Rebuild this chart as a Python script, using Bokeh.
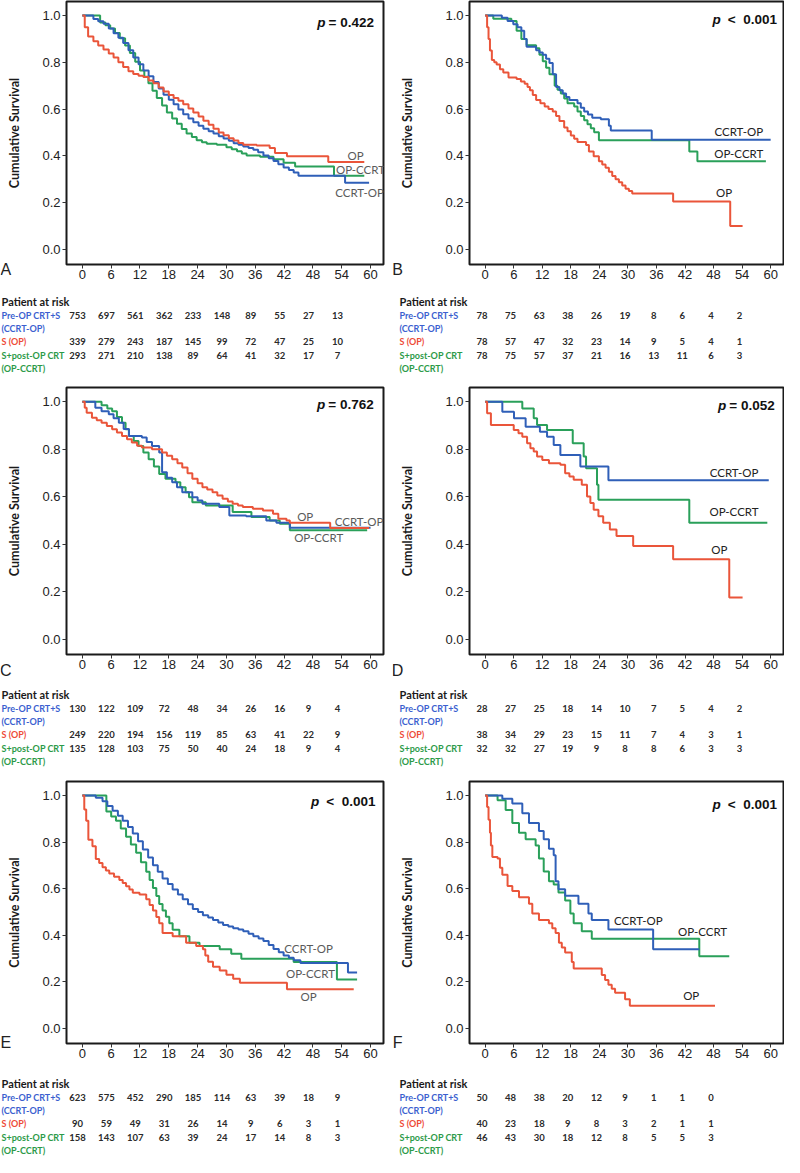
from bokeh.plotting import figure
from bokeh.layouts import column, row
from bokeh.models import Range1d, FixedTicker, NumeralTickFormatter, Label
from bokeh.core.properties import value
from bokeh.embed import file_html
from bokeh.resources import INLINE

# ---------------- data ----------------
TIME_TICKS = [0, 6, 12, 18, 24, 30, 36, 42, 48, 54, 60]
SURV_TICKS = [0.0, 0.2, 0.4, 0.6, 0.8, 1.0]
RISK_TIMES = [0, 6, 12, 18, 24, 30, 36, 42, 48, 54]
ROW_NAMES = ["Pre-OP CRT+S", "(CCRT-OP)", "S (OP)", "S+post-OP CRT", "(OP-CCRT)"]
CURVE_NAMES = ["CCRT-OP", "OP", "OP-CCRT"]

# Panel A
A_op_t = [0, 0.5, 1.2, 2.3, 3.3, 4.4, 5.5, 6.5, 7.5, 8.5, 9.6, 10.6, 11.7, 12.7, 13.8, 14.8, 15.9, 16.9, 18.0, 19.0,
          20.0, 21.0, 22.1, 23.1, 24.2, 25.2, 26.3, 27.3, 28.4, 29.4, 30.5, 31.5, 32.5, 33.5, 36.3, 39.0, 40.1, 42.6, 51.2, 58.7]
A_op_s = [1.0, 0.95, 0.91, 0.89, 0.872, 0.855, 0.838, 0.82, 0.80, 0.78, 0.762, 0.75, 0.742, 0.737, 0.722, 0.71, 0.692,
          0.675, 0.66, 0.647, 0.635, 0.62, 0.602, 0.585, 0.568, 0.55, 0.533, 0.516, 0.50, 0.488, 0.475, 0.465, 0.455,
          0.447, 0.444, 0.433, 0.412, 0.398, 0.373, 0.373]
A_ccrt_t = [0, 2.3, 3.3, 4.4, 5.5, 6.5, 7.5, 8.5, 9.6, 10.6, 11.7, 12.7, 13.8, 14.8, 15.9, 16.9, 18.0, 19.0, 20.0, 21.0,
            22.1, 23.1, 24.2, 25.2, 26.3, 27.3, 28.4, 29.4, 30.5, 31.5, 32.5, 33.5, 34.6, 35.6, 36.6, 37.7, 38.8, 39.8,
            40.8, 41.9, 43.0, 44.0, 45.0, 54.7, 59.7]
A_ccrt_s = [1.0, 0.985, 0.975, 0.965, 0.945, 0.924, 0.905, 0.882, 0.852, 0.82, 0.792, 0.765, 0.74, 0.716, 0.688, 0.661,
            0.64, 0.62, 0.598, 0.578, 0.56, 0.543, 0.529, 0.516, 0.505, 0.495, 0.484, 0.474, 0.464, 0.454, 0.447, 0.44,
            0.433, 0.426, 0.415, 0.401, 0.39, 0.378, 0.364, 0.35, 0.339, 0.329, 0.315, 0.285, 0.285]
A_opccrt_t = [0, 3.7, 4.8, 5.8, 6.8, 7.8, 8.9, 9.9, 11.0, 12.0, 12.9, 13.75, 14.6, 15.5, 16.6, 17.6, 18.7, 19.7, 20.7,
              21.7, 22.8, 23.8, 24.9, 25.9, 28.0, 30.0, 31.1, 32.2, 33.2, 34.2, 37.0, 39.8, 41.9, 44.3, 52.4, 58.7]
A_opccrt_s = [1.0, 0.97, 0.958, 0.945, 0.925, 0.903, 0.872, 0.84, 0.802, 0.765, 0.738, 0.71, 0.678, 0.647, 0.615, 0.585,
              0.56, 0.537, 0.515, 0.495, 0.48, 0.467, 0.458, 0.451, 0.447, 0.437, 0.428, 0.419, 0.41, 0.401, 0.396,
              0.385, 0.37, 0.354, 0.315, 0.315]
A_risk_ccrt = [753, 697, 561, 362, 233, 148, 89, 55, 27, 13]
A_risk_op = [339, 279, 243, 187, 145, 99, 72, 47, 25, 10]
A_risk_opccrt = [293, 271, 210, 138, 89, 64, 41, 32, 17, 7]

# Panel B
B_op_t = [0, 0.4, 0.7, 1.0, 1.4, 1.9, 2.4, 3.1, 3.8, 4.9, 6.6, 7.5, 8.3, 8.9, 9.4, 10.0, 10.7, 11.6, 12.5, 13.3, 14.2,
          14.9, 15.6, 16.6, 17.3, 18.0, 18.7, 19.4, 21.2, 21.8, 22.8, 23.9, 24.6, 25.3, 26.0, 26.7, 27.4, 28.1, 28.8,
          29.5, 30.2, 30.9, 39.5, 51.5, 54.1]
B_op_s = [1.0, 0.95, 0.9, 0.85, 0.81, 0.8, 0.79, 0.77, 0.756, 0.735, 0.728, 0.718, 0.708, 0.694, 0.68, 0.66, 0.639,
          0.625, 0.611, 0.6, 0.59, 0.57, 0.549, 0.521, 0.505, 0.487, 0.473, 0.459, 0.446, 0.418, 0.398, 0.377, 0.363,
          0.349, 0.332, 0.314, 0.3, 0.287, 0.273, 0.259, 0.249, 0.239, 0.204, 0.1, 0.1]
B_ccrt_t = [0, 3.5, 4.7, 5.9, 6.8, 7.6, 8.2, 8.7, 10.7, 11.4, 12.1, 12.8, 13.5, 14.2, 14.9, 15.6, 16.3, 17.0, 17.7,
            19.4, 20.1, 20.8, 21.6, 22.5, 24.3, 26.0, 26.4, 35.0, 60.0]
B_ccrt_s = [1.0, 0.99, 0.977, 0.963, 0.95, 0.935, 0.9, 0.866, 0.852, 0.842, 0.832, 0.815, 0.797, 0.749, 0.694, 0.68,
            0.666, 0.652, 0.639, 0.625, 0.605, 0.59, 0.577, 0.563, 0.556, 0.528, 0.508, 0.469, 0.469]
B_opccrt_t = [0, 1.7, 5.5, 6.6, 7.6, 8.7, 10.7, 11.4, 12.1, 12.8, 13.5, 14.6, 15.2, 15.9, 16.6, 17.3, 18.7, 19.4, 20.1,
              20.8, 21.5, 22.2, 22.9, 23.9, 42.9, 44.6, 59.0]
B_opccrt_s = [1.0, 0.986, 0.977, 0.935, 0.9, 0.873, 0.86, 0.832, 0.804, 0.777, 0.749, 0.7, 0.683, 0.666, 0.645, 0.625,
              0.611, 0.59, 0.57, 0.552, 0.535, 0.518, 0.501, 0.466, 0.418, 0.377, 0.377]
B_risk_ccrt = [78, 75, 63, 38, 26, 19, 8, 6, 4, 2]
B_risk_op = [78, 57, 47, 32, 23, 14, 9, 5, 4, 1]
B_risk_opccrt = [78, 75, 57, 37, 21, 16, 13, 11, 6, 3]

# Panel C
C_op_t = [0, 0.5, 0.9, 2.0, 3.0, 4.0, 5.1, 6.2, 7.2, 8.25, 9.3, 10.3, 11.4, 12.4, 14.5, 16.6, 17.6, 18.7, 19.8, 20.8,
          21.9, 22.9, 24.0, 25.0, 26.0, 27.1, 28.1, 29.2, 30.3, 31.3, 32.4, 33.4, 35.5, 37.6, 39.7, 40.8, 42.5, 43.2,
          51.6, 59.7]
C_op_s = [1.0, 0.975, 0.954, 0.933, 0.922, 0.912, 0.898, 0.884, 0.87, 0.856, 0.842, 0.828, 0.815, 0.807, 0.8, 0.786,
          0.772, 0.758, 0.741, 0.723, 0.699, 0.675, 0.657, 0.64, 0.63, 0.619, 0.605, 0.591, 0.58, 0.57, 0.563, 0.556,
          0.549, 0.542, 0.528, 0.507, 0.5, 0.49, 0.468, 0.468]
C_ccrt_t = [0, 2.7, 4.0, 5.5, 6.5, 7.6, 8.6, 9.7, 12.4, 13.4, 14.5, 16.0, 16.6, 17.6, 18.7, 19.7, 20.8, 22.9, 24.0,
            25.0, 28.5, 30.6, 34.1, 38.3, 40.4, 43.2, 60.0]
C_ccrt_s = [1.0, 0.975, 0.96, 0.947, 0.93, 0.912, 0.885, 0.856, 0.849, 0.83, 0.814, 0.786, 0.703, 0.68, 0.661, 0.64,
            0.619, 0.598, 0.584, 0.57, 0.556, 0.521, 0.517, 0.5, 0.49, 0.469, 0.469]
C_opccrt_t = [0, 4.0, 5.2, 6.2, 7.2, 8.25, 9.0, 9.7, 10.7, 11.7, 12.7, 13.8, 14.9, 16.0, 17.3, 19.4, 20.4, 21.5, 22.2,
              22.9, 25.7, 31.3, 35.2, 39.0, 41.1, 43.2, 59.3]
C_opccrt_s = [1.0, 0.985, 0.972, 0.96, 0.936, 0.912, 0.884, 0.856, 0.835, 0.814, 0.786, 0.758, 0.727, 0.696, 0.675,
              0.661, 0.64, 0.619, 0.598, 0.577, 0.563, 0.535, 0.514, 0.5, 0.486, 0.458, 0.458]
C_risk_ccrt = [130, 122, 109, 72, 48, 34, 26, 16, 9, 4]
C_risk_op = [249, 220, 194, 156, 119, 85, 63, 41, 22, 9]
C_risk_opccrt = [135, 128, 103, 75, 50, 40, 24, 18, 9, 4]

# Panel D
D_op_t = [0, 0.4, 1.2, 6.0, 7.0, 7.8, 8.8, 9.5, 10.2, 10.9, 12.0, 13.4, 15.8, 16.8, 17.7, 18.6, 20.3, 21.4, 22.1, 22.8,
          23.8, 24.8, 26.2, 27.6, 31.1, 39.5, 51.3, 54.1]
D_op_s = [1.0, 0.951, 0.902, 0.881, 0.867, 0.853, 0.825, 0.804, 0.79, 0.769, 0.755, 0.741, 0.734, 0.699, 0.685, 0.671,
          0.65, 0.601, 0.573, 0.545, 0.517, 0.49, 0.462, 0.434, 0.392, 0.336, 0.175, 0.175]
D_ccrt_t = [0, 3.6, 6.05, 8.5, 11.5, 13.0, 14.4, 15.8, 20.0, 25.9, 59.6]
D_ccrt_s = [1.0, 0.958, 0.93, 0.895, 0.874, 0.853, 0.818, 0.776, 0.727, 0.669, 0.669]
D_opccrt_t = [0, 7.8, 10.2, 10.9, 13.0, 18.4, 20.7, 21.2, 23.5, 23.8, 42.9, 59.3]
D_opccrt_s = [1.0, 0.972, 0.93, 0.902, 0.881, 0.825, 0.769, 0.72, 0.65, 0.587, 0.49, 0.49]
D_risk_ccrt = [28, 27, 25, 18, 14, 10, 7, 5, 4, 2]
D_risk_op = [38, 34, 29, 23, 15, 11, 7, 4, 3, 1]
D_risk_opccrt = [32, 32, 27, 19, 9, 8, 8, 6, 3, 3]

# Panel E
E_op_t = [0, 0.4, 0.8, 1.25, 2.1, 2.8, 3.5, 4.2, 4.9, 5.6, 6.6, 7.7, 8.4, 9.1, 9.8, 10.5, 11.9, 13.3, 14.0, 14.7,
          15.4, 16.0, 16.7, 18.8, 21.6, 23.7, 25.1, 25.6, 26.2, 27.2, 28.6, 30.0, 31.4, 32.8, 42.6, 56.5]
E_op_s = [1.0, 0.94, 0.892, 0.81, 0.782, 0.727, 0.71, 0.692, 0.678, 0.665, 0.651, 0.637, 0.624, 0.61, 0.596, 0.582,
          0.575, 0.554, 0.53, 0.506, 0.478, 0.451, 0.41, 0.396, 0.368, 0.354, 0.34, 0.313, 0.286, 0.265, 0.248, 0.23,
          0.213, 0.196, 0.168, 0.168]
E_ccrt_t = [0, 2.8, 4.2, 5.2, 6.3, 7.4, 8.4, 9.5, 10.5, 11.6, 12.6, 13.7, 14.7, 15.7, 16.7, 17.8, 18.8, 19.9, 20.9,
            22.0, 23.0, 24.1, 25.1, 26.2, 27.2, 28.3, 29.3, 30.4, 31.4, 32.5, 33.5, 34.6, 35.6, 36.7, 37.7, 38.8, 39.8,
            40.9, 41.9, 43.0, 44.0, 45.4, 55.3, 57.2]
E_ccrt_s = [1.0, 0.99, 0.975, 0.955, 0.934, 0.913, 0.892, 0.865, 0.837, 0.803, 0.768, 0.734, 0.7, 0.672, 0.644, 0.62,
            0.596, 0.575, 0.554, 0.533, 0.513, 0.5, 0.486, 0.476, 0.465, 0.455, 0.444, 0.437, 0.43, 0.424, 0.417,
            0.406, 0.396, 0.386, 0.375, 0.358, 0.341, 0.327, 0.313, 0.303, 0.292, 0.281, 0.24, 0.24]
E_opccrt_t = [0, 5.0, 6.0, 7.0, 8.0, 9.1, 10.1, 11.2, 12.2, 13.3, 14.0, 14.7, 15.4, 16.0, 16.7, 17.4, 18.1, 18.8,
              20.2, 22.3, 24.4, 28.6, 31.0, 33.1, 44.0, 53.0, 57.2]
E_opccrt_s = [1.0, 0.931, 0.91, 0.892, 0.858, 0.823, 0.789, 0.754, 0.713, 0.672, 0.637, 0.603, 0.568, 0.534, 0.506,
              0.479, 0.451, 0.423, 0.396, 0.368, 0.354, 0.34, 0.32, 0.299, 0.285, 0.21, 0.21]
E_risk_ccrt = [623, 575, 452, 290, 185, 114, 63, 39, 18, 9]
E_risk_op = [90, 59, 49, 31, 26, 14, 9, 6, 3, 1]
E_risk_opccrt = [158, 143, 107, 63, 39, 24, 17, 14, 8, 3]

# Panel F
F_op_t = [0, 0.4, 0.7, 1.0, 1.2, 1.5, 2.6, 3.1, 3.6, 4.7, 5.7, 7.1, 9.2, 9.9, 11.3, 13.4, 14.1, 14.8, 15.5, 16.1,
          16.8, 18.2, 18.6, 24.5, 25.2, 25.9, 26.6, 27.3, 29.4, 30.4, 48.3]
F_op_s = [1.0, 0.95, 0.896, 0.84, 0.785, 0.736, 0.729, 0.69, 0.66, 0.611, 0.59, 0.5625, 0.535, 0.493, 0.465, 0.451,
          0.43, 0.41, 0.368, 0.347, 0.326, 0.285, 0.257, 0.229, 0.208, 0.1875, 0.17, 0.153, 0.125, 0.097, 0.097]
F_ccrt_t = [0, 3.6, 5.7, 7.8, 9.2, 11.3, 12.3, 13.4, 14.4, 14.8, 15.4, 16.8, 19.6, 21.7, 22.4, 25.9, 35.3, 45.0]
F_ccrt_s = [1.0, 0.986, 0.965, 0.924, 0.882, 0.847, 0.8125, 0.771, 0.743, 0.632, 0.597, 0.569, 0.535, 0.493, 0.465,
            0.424, 0.34, 0.34]
F_opccrt_t = [0, 2.6, 4.3, 5.7, 7.1, 8.5, 10.6, 11.3, 12.3, 13.4, 14.4, 15.4, 16.8, 17.9, 18.6, 20.3, 22.4, 45.0, 51.3]
F_opccrt_s = [1.0, 0.979, 0.9375, 0.882, 0.84, 0.8125, 0.785, 0.729, 0.674, 0.632, 0.618, 0.583, 0.549, 0.493, 0.451,
              0.417, 0.385, 0.31, 0.31]
F_risk_ccrt = [50, 48, 38, 20, 12, 9, 1, 1, 0]
F_risk_op = [40, 23, 18, 9, 8, 3, 2, 1, 1]
F_risk_opccrt = [46, 43, 30, 18, 12, 8, 5, 5, 3]

P_TEXTS = {"A": "= 0.422", "B": "<\u00a0\u00a00.001", "C": "= 0.762", "D": "= 0.052",
           "E": "<\u00a0\u00a00.001", "F": "<\u00a0\u00a00.001"}

# ---------------- styles / layout ----------------
BLUE = "#2f5fb8"
RED = "#ea553a"
GREEN = "#2aa05a"
LBL_BLUE = "#3b5fcf"
LBL_RED = "#ee4b37"
LBL_GREEN = "#2c9a48"
X0, X1 = -3.3, 62.7
Y0, Y1 = -0.065, 1.06
FW = 392
BOTTOM = 30      # bottom border of each survival plot
OVER = 40        # how far each risk table reaches up into the plot above it


def km_plot(side, h, top, letter, curves, lab_pos, lab_color, p_pos):
    left = 66 if side == "L" else 77
    right = 9 if side == "L" else 1
    p = figure(width=FW, height=h, x_range=Range1d(X0, X1), y_range=Range1d(Y0, Y1),
               output_backend="svg", toolbar_location=None, tools="", title=None,
               min_border_left=left, min_border_right=right, min_border_top=top,
               min_border_bottom=BOTTOM)
    p.grid.visible = False
    p.outline_line_color = "#1a1a1a"
    p.outline_line_width = 2
    p.background_fill_color = "white"
    p.border_fill_alpha = 0

    p.xaxis.ticker = FixedTicker(ticks=TIME_TICKS)
    p.yaxis.ticker = FixedTicker(ticks=SURV_TICKS)
    p.yaxis.formatter = NumeralTickFormatter(format="0.0")
    for ax in (p.xaxis[0], p.yaxis[0]):
        ax.axis_line_color = None
        ax.major_tick_in = 0
        ax.major_tick_out = 4
        ax.major_tick_line_color = "#333333"
        ax.minor_tick_line_color = None
        ax.major_label_text_font = "Liberation Sans"
        ax.major_label_text_font_size = "13px"
        ax.major_label_text_color = "#222222"
    p.xaxis.major_label_standoff = 1
    p.yaxis.major_label_standoff = 2
    p.yaxis.axis_label = "Cumulative Survival"
    p.yaxis.axis_label_text_font = "Lato"
    p.yaxis.axis_label_text_font_style = "bold"
    p.yaxis.axis_label_text_font_size = "12.5px"
    p.yaxis.axis_label_text_color = "#1a1a1a"
    p.yaxis.axis_label_standoff = 17 if side == "L" else 27

    (ct, cs), (ot, os_), (gt, gs) = curves
    p.step(x=gt, y=gs, mode="after", line_color=GREEN, line_width=2)
    p.step(x=ct, y=cs, mode="after", line_color=BLUE, line_width=2)
    p.step(x=ot, y=os_, mode="after", line_color=RED, line_width=2)

    lx = [q[0] for q in lab_pos]
    ly = [q[1] for q in lab_pos]
    p.text(x=lx, y=ly, text=CURVE_NAMES, text_font=value("Lato"), text_font_size=value("11.5px"),
           text_color=lab_color, text_align="center", text_baseline="middle")

    px, py = p_pos
    gap = -7 if P_TEXTS[letter].startswith("<") else -3
    p.add_layout(Label(x=px, y=py, text="p", x_offset=gap, text_align="right", text_baseline="middle",
                       text_font="Liberation Sans", text_font_style="bold italic",
                       text_font_size="13.5px", text_color="#111111"))
    p.add_layout(Label(x=px, y=py, text=P_TEXTS[letter], text_align="left", text_baseline="middle",
                       text_font="Liberation Sans", text_font_style="bold",
                       text_font_size="13.5px", text_color="#111111"))
    return p


def risk_fig(side, h, top, letter, letter_off, ccrt, op, opccrt):
    if side == "L":
        xr = (-15.99, 65.42)
        lx = -15.78
        letx = -14.9
    else:
        xr = (-18.77, 63.43)
        lx = -17.3
        letx = -17.7
    H = h + OVER
    t = figure(width=FW, height=H, x_range=Range1d(*xr), y_range=Range1d(H, 0),
               output_backend="svg", toolbar_location=None, tools="", title=None,
               x_axis_location=None, y_axis_location=None, min_border=0)
    t.grid.visible = False
    t.outline_line_color = None
    t.border_fill_alpha = 0
    t.background_fill_alpha = 0

    # panel letter, level with the x axis of the plot above
    t.text(x=[letx], y=[OVER - BOTTOM + letter_off], text=[letter], text_font=value("Liberation Sans"),
           text_font_size=value("16px"), text_color="#222222", text_align="center", text_baseline="middle")

    dys = [0, 13.5, 26.5, 40, 53.5, 67]
    ys = [OVER + top + d for d in dys]
    t.text(x=[lx], y=[ys[0]], text=["Patient at risk"], text_font=value("Lato"), text_font_style="bold",
           text_font_size=value("11px"), text_color="#1a1a1a", text_baseline="middle")
    t.text(x=[lx] * 5, y=ys[1:], text=ROW_NAMES, text_font=value("Lato"), text_font_style="bold",
           text_font_size=value("9px"), text_color=[LBL_BLUE, LBL_BLUE, LBL_RED, LBL_GREEN, LBL_GREEN],
           text_baseline="middle")
    for vals, yy in ((ccrt, ys[1]), (op, ys[3]), (opccrt, ys[4])):
        n = len(vals)
        t.text(x=RISK_TIMES[:n], y=[yy] * n, text=[str(v) for v in vals], text_font=value("Lato"),
               text_font_style="bold", text_font_size=value("9.5px"), text_color="#2a2a2a",
               text_align="center", text_baseline="middle")
    return t


GRAY = "#5a5a5a"
DARK = "#222222"

pA = km_plot("L", 294, 1, "A",
             ((A_ccrt_t, A_ccrt_s), (A_op_t, A_op_s), (A_opccrt_t, A_opccrt_s)),
             [(57.7, 0.245), (56.9, 0.402), (57.9, 0.34)], GRAY, (51.25, 0.971))
pB = km_plot("R", 294, 1, "B",
             ((B_ccrt_t, B_ccrt_s), (B_op_t, B_op_s), (B_opccrt_t, B_opccrt_s)),
             [(53.3, 0.503), (50.2, 0.241), (53.3, 0.41)], DARK, (51.0, 0.983))
tA = risk_fig("L", 86, 7, "A", 4.5, A_risk_ccrt, A_risk_op, A_risk_opccrt)
tB = risk_fig("R", 86, 7, "B", 4.5, B_risk_ccrt, B_risk_op, B_risk_opccrt)

pC = km_plot("L", 304, 7, "C",
             ((C_ccrt_t, C_ccrt_s), (C_op_t, C_op_s), (C_opccrt_t, C_opccrt_s)),
             [(57.6, 0.496), (46.4, 0.517), (49.2, 0.426)], GRAY, (51.2, 0.989))
pD = km_plot("R", 304, 7, "D",
             ((D_ccrt_t, D_ccrt_s), (D_op_t, D_op_s), (D_opccrt_t, D_opccrt_s)),
             [(52.3, 0.702), (49.2, 0.378), (52.3, 0.538)], DARK, (51.3, 0.986))
tC = risk_fig("L", 88, 10, "C", 16, C_risk_ccrt, C_risk_op, C_risk_opccrt)
tD = risk_fig("R", 88, 10, "D", 16, D_risk_ccrt, D_risk_op, D_risk_opccrt)

pE = km_plot("L", 301, 9, "E",
             ((E_ccrt_t, E_ccrt_s), (E_op_t, E_op_s), (E_opccrt_t, E_opccrt_s)),
             [(47.1, 0.341), (47.1, 0.135), (47.5, 0.237)], GRAY, (50.8, 0.975))
pF = km_plot("R", 301, 9, "F",
             ((F_ccrt_t, F_ccrt_s), (F_op_t, F_op_s), (F_opccrt_t, F_opccrt_s)),
             [(32.2, 0.4625), (43.3, 0.139), (45.7, 0.417)], DARK, (51.0, 0.9625))
tE = risk_fig("L", 84, 10, "E", -1, E_risk_ccrt, E_risk_op, E_risk_opccrt)
tF = risk_fig("R", 84, 10, "F", -1, F_risk_ccrt, F_risk_op, F_risk_opccrt)

layout = column(row(pA, pB),
                row(tA, tB, margin=(-OVER, 0, 0, 0)),
                row(pC, pD),
                row(tC, tD, margin=(-OVER, 0, 0, 0)),
                row(pE, pF),
                row(tE, tF, margin=(-OVER, 0, 0, 0)))

with open("out.html", "w") as f:
    f.write(file_html(layout, INLINE))
